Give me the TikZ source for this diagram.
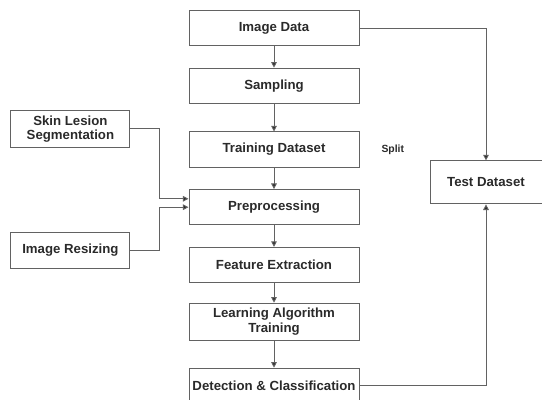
\documentclass[tikz,border=0pt]{standalone}
\usepackage{fontspec}
\setmainfont{Liberation Sans}
\usepackage{xcolor}
\usetikzlibrary{positioning,calc,arrows.meta}

\definecolor{boxline}{HTML}{626262}
\definecolor{boxtext}{HTML}{2A2A2A}

\tikzset{
    stage/.style={draw=boxline, line width=0.7pt, minimum width=4.25cm, minimum height=0.88cm,
        align=center, text=boxtext, font=\fontsize{9.4}{10.5}\selectfont\bfseries, inner sep=1pt},
    side/.style={stage, minimum width=2.975cm, minimum height=0.9cm},
    flow/.style={draw=boxline, line width=0.7pt, -{Triangle[width=4pt,length=4pt,fill=boxtext]}}
}

\begin{document}
\begin{tikzpicture}
    \useasboundingbox (0,0) rectangle (13.55,10);

    % main pipeline
    \node[stage] (img) at (6.85,9.29) {Image Data};
    \node[stage] (smp) at (6.85,7.855) {Sampling};
    \node[stage] (trn) at (6.85,6.26) {Training Dataset};
    \node[stage] (pre) at (6.85,4.82) {Preprocessing};
    \node[stage] (fex) at (6.85,3.375) {Feature Extraction};
    \node[stage, minimum height=0.92cm] (lat) at (6.85,1.96) {Learning Algorithm\\Training};
    \node[stage] (det) at (6.85,0.355) {Detection \& Classification};

    % side inputs
    \node[side] (skin) at (1.76,6.775) {Skin Lesion\\Segmentation};
    \node[side] (rsz) at (1.76,3.74) {Image Resizing};
    \node[side, minimum width=2.8cm, minimum height=1.075cm] (test) at (12.15,5.44) {Test Dataset};

    \node[text=boxtext, font=\fontsize{7.4}{8}\selectfont\bfseries] (split) at (9.82,6.25) {Split};

    \draw[flow] (img) -- (smp);
    \draw[flow] (smp) -- (trn);
    \draw[flow] (trn) -- (pre);
    \draw[flow] (pre) -- (fex);
    \draw[flow] (fex) -- (lat);
    \draw[flow] (lat) -- (det);

    \draw[flow] (skin.east) -- ++(0.725,0) |- ([yshift=0.21cm]pre.west);
    \draw[flow] (rsz.east) -- ++(0.725,0) |- (pre.west);

    \draw[flow] (img.east) -| (test.north);
    \draw[flow] (det.east) -| (test.south);
\end{tikzpicture}
\end{document}
